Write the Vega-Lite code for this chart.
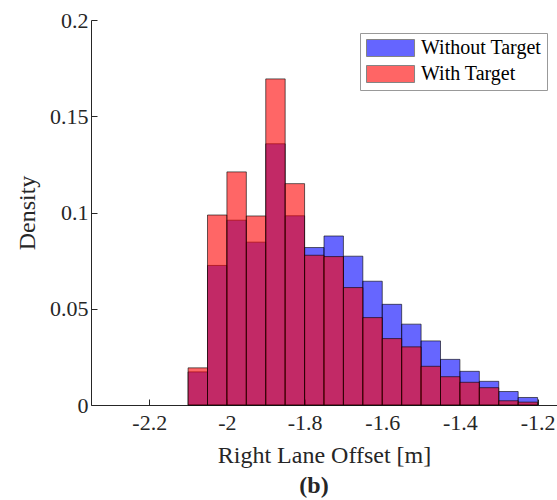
{
  "$schema": "https://vega.github.io/schema/vega-lite/v6.json",
  "width": 466,
  "height": 385,
  "autosize": {"type": "none"},
  "padding": {"left": 91, "top": 20, "right": 0, "bottom": 95},
  "background": "white",
  "config": {
    "view": {"stroke": null},
    "font": "Liberation Serif",
    "axis": {"grid": false, "domainColor": "#262626", "tickColor": "#262626", "labelColor": "#262626", "titleColor": "#262626", "labelFont": "Liberation Serif", "titleFont": "Liberation Serif", "titleFontWeight": "normal", "labelFontSize": 22, "titleFontSize": 24}
  },
  "title": {"text": "(b)", "orient": "bottom", "fontWeight": "bold", "fontSize": 24, "font": "Liberation Serif", "color": "#262626", "offset": 7, "dx": -10},
  "data": {"values": [
    {"series": "Without Target", "x0": -2.10, "x1": -2.05, "d": 0.0172},
    {"series": "Without Target", "x0": -2.05, "x1": -2.00, "d": 0.0725},
    {"series": "Without Target", "x0": -2.00, "x1": -1.95, "d": 0.0960},
    {"series": "Without Target", "x0": -1.95, "x1": -1.90, "d": 0.0846},
    {"series": "Without Target", "x0": -1.90, "x1": -1.85, "d": 0.1357},
    {"series": "Without Target", "x0": -1.85, "x1": -1.80, "d": 0.0983},
    {"series": "Without Target", "x0": -1.80, "x1": -1.75, "d": 0.0818},
    {"series": "Without Target", "x0": -1.75, "x1": -1.70, "d": 0.0878},
    {"series": "Without Target", "x0": -1.70, "x1": -1.65, "d": 0.0773},
    {"series": "Without Target", "x0": -1.65, "x1": -1.60, "d": 0.0643},
    {"series": "Without Target", "x0": -1.60, "x1": -1.55, "d": 0.0523},
    {"series": "Without Target", "x0": -1.55, "x1": -1.50, "d": 0.0420},
    {"series": "Without Target", "x0": -1.50, "x1": -1.45, "d": 0.0333},
    {"series": "Without Target", "x0": -1.45, "x1": -1.40, "d": 0.0237},
    {"series": "Without Target", "x0": -1.40, "x1": -1.35, "d": 0.0175},
    {"series": "Without Target", "x0": -1.35, "x1": -1.30, "d": 0.0123},
    {"series": "Without Target", "x0": -1.30, "x1": -1.25, "d": 0.0070},
    {"series": "Without Target", "x0": -1.25, "x1": -1.20, "d": 0.0039},
    {"series": "With Target", "x0": -2.10, "x1": -2.05, "d": 0.0193},
    {"series": "With Target", "x0": -2.05, "x1": -2.00, "d": 0.0987},
    {"series": "With Target", "x0": -2.00, "x1": -1.95, "d": 0.1211},
    {"series": "With Target", "x0": -1.95, "x1": -1.90, "d": 0.0982},
    {"series": "With Target", "x0": -1.90, "x1": -1.85, "d": 0.1694},
    {"series": "With Target", "x0": -1.85, "x1": -1.80, "d": 0.1150},
    {"series": "With Target", "x0": -1.80, "x1": -1.75, "d": 0.0778},
    {"series": "With Target", "x0": -1.75, "x1": -1.70, "d": 0.0771},
    {"series": "With Target", "x0": -1.70, "x1": -1.65, "d": 0.0610},
    {"series": "With Target", "x0": -1.65, "x1": -1.60, "d": 0.0454},
    {"series": "With Target", "x0": -1.60, "x1": -1.55, "d": 0.0345},
    {"series": "With Target", "x0": -1.55, "x1": -1.50, "d": 0.0302},
    {"series": "With Target", "x0": -1.50, "x1": -1.45, "d": 0.0201},
    {"series": "With Target", "x0": -1.45, "x1": -1.40, "d": 0.0147},
    {"series": "With Target", "x0": -1.40, "x1": -1.35, "d": 0.0118},
    {"series": "With Target", "x0": -1.35, "x1": -1.30, "d": 0.0090},
    {"series": "With Target", "x0": -1.30, "x1": -1.25, "d": 0.0022},
    {"series": "With Target", "x0": -1.25, "x1": -1.20, "d": 0.0015}
  ]},
  "encoding": {
    "x": {"field": "x0", "type": "quantitative", "scale": {"domain": [-2.35, -1.15], "nice": false, "zero": false},
      "axis": {"values": [-2.2, -2.0, -1.8, -1.6, -1.4, -1.2], "format": "~g", "labelExpr": "replace(datum.label, '−', '-')", "tickSize": -6, "labelPadding": 13, "title": "Right Lane Offset [m]", "titlePadding": 10}},
    "x2": {"field": "x1"},
    "y": {"field": "d", "type": "quantitative", "scale": {"domain": [0, 0.2], "nice": false},
      "axis": {"values": [0, 0.05, 0.1, 0.15, 0.2], "format": "~g", "tickSize": -6, "labelPadding": 9, "title": "Density", "titlePadding": 10}},
    "y2": {"datum": 0},
    "color": {"field": "series", "type": "nominal", "scale": {"domain": ["Without Target", "With Target"], "range": ["#0000ff", "#ff0000"]},
      "legend": {"title": null, "orient": "none", "legendX": 269, "legendY": 13, "symbolType": "M-1,-1H4.65V1H-1Z", "symbolSize": 289, "symbolOpacity": 0.6, "symbolStrokeColor": "#333333", "symbolStrokeWidth": 1, "labelFontSize": 20, "labelFont": "Liberation Serif", "labelColor": "#000000", "labelOffset": 36, "rowPadding": 4, "fillColor": "white", "strokeColor": "#999999", "padding": 5}}
  },
  "layer": [
    {"transform": [{"filter": "datum.series === 'Without Target'"}], "mark": {"type": "bar", "fillOpacity": 0.6, "stroke": "#000000", "strokeOpacity": 0.6, "strokeWidth": 1}},
    {"transform": [{"filter": "datum.series === 'With Target'"}], "mark": {"type": "bar", "fillOpacity": 0.6, "stroke": "#000000", "strokeOpacity": 0.6, "strokeWidth": 1}}
  ]
}
